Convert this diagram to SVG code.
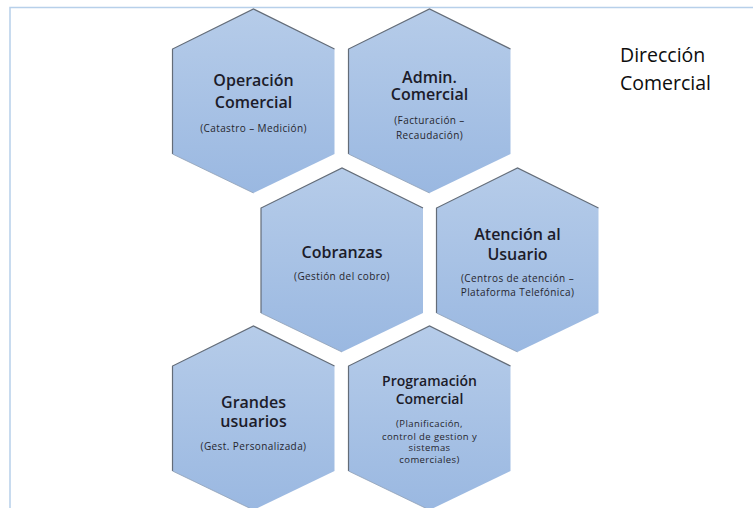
<svg xmlns="http://www.w3.org/2000/svg" width="753" height="508" viewBox="0 0 753 508">
  <style>
    .hex { fill: url(#hexFill); }
    .edge { fill: none; stroke: #636c78; stroke-width: 1.2; stroke-linejoin: miter; }
    .rim { fill: none; stroke: #8f9fb5; stroke-width: 0.8; }
    .t { font-family: "Open Sans", "Liberation Sans", sans-serif; font-weight: 600; font-size: 16px; fill: #1c1c2a; text-anchor: middle; }
    .s { font-family: "Open Sans", "Liberation Sans", sans-serif; font-size: 10px; letter-spacing: 0.4px; fill: #26262e; text-anchor: middle; }
    .h { font-family: "Open Sans", "Liberation Sans", sans-serif; font-size: 19.5px; fill: #0d0d0d; }
    .frame { fill: none; stroke: #b7d0ea; stroke-width: 1.5; }
  </style>
  <defs>
    <linearGradient id="hexFill" x1="0" y1="0" x2="0" y2="1">
      <stop offset="0" stop-color="#b6cce9"/>
      <stop offset="1" stop-color="#9ab8e1"/>
    </linearGradient>
    <path id="hexShape" d="M0,-92 L81,-52 L81,53 L0,92 L-81,53 L-81,-52 Z"/>
    <path id="hexEdge" d="M-81,53 L-81,-52 L0,-92 L81,-52"/>
    <path id="hexRim" d="M-81,53 L0,92"/>
  </defs>

  <rect width="753" height="508" fill="#ffffff"/>
  <path class="frame" d="M10,508 V7.5 H753"/>

  <g id="operacion-comercial" transform="translate(253.5,101)">
    <use href="#hexShape" class="hex"/>
    <use href="#hexEdge" class="edge"/>
    <use href="#hexRim" class="rim"/>
    <text class="t" y="-15">Operación<tspan x="0" y="7">Comercial</tspan></text>
    <text class="s" y="31">(Catastro – Medición)</text>
  </g>

  <g id="admin-comercial" transform="translate(429.5,101)">
    <use href="#hexShape" class="hex"/>
    <use href="#hexEdge" class="edge"/>
    <use href="#hexRim" class="rim"/>
    <text class="t" y="-18">Admin.<tspan x="0" y="-1">Comercial</tspan></text>
    <text class="s" y="23">(Facturación –<tspan x="0" y="38">Recaudación)</tspan></text>
  </g>

  <g id="cobranzas" transform="translate(342,260)">
    <use href="#hexShape" class="hex"/>
    <use href="#hexEdge" class="edge"/>
    <use href="#hexRim" class="rim"/>
    <text class="t" y="-2">Cobranzas</text>
    <text class="s" y="20">(Gestión del cobro)</text>
  </g>

  <g id="atencion-usuario" transform="translate(517.5,260)">
    <use href="#hexShape" class="hex"/>
    <use href="#hexEdge" class="edge"/>
    <use href="#hexRim" class="rim"/>
    <text class="t" y="-20">Atención al<tspan x="0" y="0">Usuario</tspan></text>
    <text class="s" y="22">(Centros de atención –<tspan x="0" y="36">Plataforma Telefónica)</tspan></text>
  </g>

  <g id="grandes-usuarios" transform="translate(253.5,418)">
    <use href="#hexShape" class="hex"/>
    <use href="#hexEdge" class="edge"/>
    <use href="#hexRim" class="rim"/>
    <text class="t" y="-10">Grandes<tspan x="0" y="9">usuarios</tspan></text>
    <text class="s" y="32">(Gest. Personalizada)</text>
  </g>

  <g id="programacion-comercial" transform="translate(429.5,418)">
    <use href="#hexShape" class="hex"/>
    <use href="#hexEdge" class="edge"/>
    <use href="#hexRim" class="rim"/>
    <text class="t" y="-32" style="font-size:14px">Programación<tspan x="0" y="-14">Comercial</tspan></text>
    <text class="s" y="9" style="font-size:9.5px">(Planificación,<tspan x="0" y="22">control de gestion y</tspan><tspan x="0" y="33">sistemas</tspan><tspan x="0" y="45">comerciales)</tspan></text>
  </g>

  <g id="direccion-comercial">
    <text class="h" x="620" y="62">Dirección<tspan x="620" y="90">Comercial</tspan></text>
  </g>
</svg>
